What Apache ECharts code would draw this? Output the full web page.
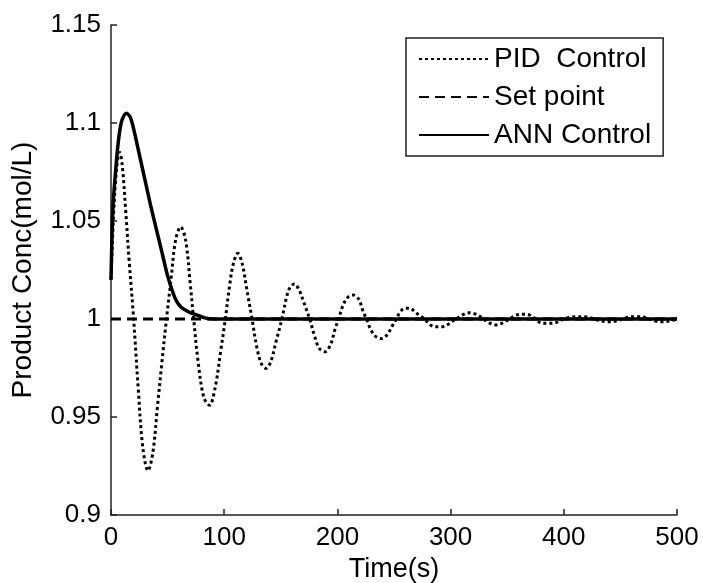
<!DOCTYPE html>
<html>
<head>
<meta charset="utf-8">
<script src="https://cdn.jsdelivr.net/npm/echarts@6/dist/echarts.min.js"></script>
<style>html,body{margin:0;padding:0;background:#fff}#c{width:703px;height:583px}</style>
</head>
<body>
<div id="c"></div>
<script>
var xTicks = [0, 100, 200, 300, 400, 500];
var yTicks = [0.9, 0.95, 1, 1.05, 1.1, 1.15];
var seriesNames = ['PID  Control', 'Set point', 'ANN Control'];

var pidTime = [0,2,4,6,7.7,10,13,16,20,24,28,32.7,37,41,45,49,53,57,61.6,66,70,73,77,82,87,92,97,101,105,108,112,116,120,124.6,129,133,137,141,146,151,155,158,162,166,170,175.5,180,184,189,194,198,201,205,209,214,219,222,225.6,230,234,239,244,248,252,256,260,264,268,272,277,282,287,292,297,302,305,310,317,324,329,334,340,346,352,358,364,370,375,380,386,392,400,407,414,421,427,433,440,446,452,458,464,470,475,481,487,493,500];
var pidConc = [1.02,1.05,1.07,1.082,1.085,1.078,1.055,1.03,1.0,0.965,0.935,0.9226,0.932,0.955,0.978,1.0,1.02,1.04,1.047,1.04,1.018,1.0,0.978,0.96,0.956,0.965,0.984,1.0,1.018,1.028,1.0335,1.028,1.015,1.0,0.985,0.977,0.9748,0.978,0.989,1.0,1.011,1.016,1.0179,1.015,1.009,1.0,0.991,0.985,0.9833,0.987,0.995,1.0,1.007,1.011,1.0122,1.01,1.005,1.0,0.994,0.991,0.990,0.992,0.996,1.0,1.004,1.0055,1.0055,1.004,1.002,1.0,0.997,0.996,0.996,0.997,0.999,1.0,1.002,1.0032,1.002,1.0,0.998,0.997,0.998,1.0,1.002,1.0024,1.002,1.0,0.998,0.9978,0.998,1.0,1.001,1.0012,1.001,1.0,0.999,0.9986,0.999,1.0,1.001,1.0012,1.001,1.0,0.999,0.9986,0.999,1.0];

var setTime = [0, 500];
var setConc = [1, 1];

var annTime = [0,1,2,4,6,8,10,13.6,17,20,25,30,35,40,45,50,55,58,62,66,71,76,83,90,95,500];
var annConc = [1.02,1.045,1.06,1.075,1.088,1.097,1.102,1.105,1.103,1.097,1.084,1.071,1.058,1.046,1.034,1.022,1.013,1.009,1.006,1.0045,1.003,1.002,1.0006,1.0,1.0,1.0];

function pairs(xs, ys) { return xs.map(function (x, i) { return [x, ys[i]]; }); }

var FONT = '"Liberation Sans", Arial, sans-serif';
var chart = echarts.init(document.getElementById('c'), null, {renderer: 'canvas'});
chart.setOption({
  animation: false,
  backgroundColor: '#ffffff',
  grid: {left: 111, top: 25, right: 26, bottom: 68, containLabel: false, outerBoundsMode: 'none'},
  legend: {
    orient: 'vertical',
    left: 406, top: 38,
    padding: [7, 12, 7, 12],
    itemGap: 10,
    itemWidth: 70, itemHeight: 14,
    borderColor: '#222', borderWidth: 1.5,
    backgroundColor: '#fff',
    textStyle: {fontFamily: FONT, fontSize: 28, color: '#000'},
    data: seriesNames
  },
  xAxis: {
    type: 'value', min: 0, max: 500, interval: 100,
    name: 'Time(s)', nameLocation: 'middle', nameGap: 36,
    nameTextStyle: {fontFamily: FONT, fontSize: 27, color: '#000'},
    axisLine: {show: true, lineStyle: {color: '#222', width: 1.5}},
    axisTick: {show: true, inside: true, length: 6, lineStyle: {color: '#222', width: 1.5}},
    axisLabel: {fontFamily: FONT, fontSize: 26, color: '#000', margin: 10,
      formatter: function (v) { return xTicks.indexOf(v) >= 0 ? String(v) : ''; }},
    splitLine: {show: false}
  },
  yAxis: {
    type: 'value', min: 0.9, max: 1.15, interval: 0.05,
    name: 'Product Conc(mol/L)', nameLocation: 'middle', nameGap: 74, nameRotate: 90,
    nameTextStyle: {fontFamily: FONT, fontSize: 28, color: '#000'},
    axisLine: {show: true, lineStyle: {color: '#222', width: 1.5}},
    axisTick: {show: true, inside: true, length: 6, lineStyle: {color: '#222', width: 1.5}},
    axisLabel: {fontFamily: FONT, fontSize: 26, color: '#000', margin: 10,
      formatter: function (v) {
        var r = Math.round(v * 100) / 100;
        for (var i = 0; i < yTicks.length; i++) if (Math.abs(yTicks[i] - r) < 1e-9) return String(yTicks[i]);
        return '';
      }},
    splitLine: {show: false}
  },
  series: [
    {
      name: seriesNames[0], type: 'line', data: pairs(pidTime, pidConc),
      symbol: 'none', smooth: 0.35, z: 2,
      itemStyle: {color: 'rgba(0,0,0,0)'},
      lineStyle: {color: '#000', width: 3, type: [3, 3]}
    },
    {
      name: seriesNames[1], type: 'line', data: pairs(setTime, setConc),
      symbol: 'none', z: 3,
      itemStyle: {color: 'rgba(0,0,0,0)'},
      lineStyle: {color: '#000', width: 3, type: [10, 6]}
    },
    {
      name: seriesNames[2], type: 'line', data: pairs(annTime, annConc),
      symbol: 'none', smooth: 0.3, z: 4,
      itemStyle: {color: 'rgba(0,0,0,0)'},
      lineStyle: {color: '#000', width: 3.5, type: 'solid'}
    }
  ]
});
</script>
</body>
</html>
